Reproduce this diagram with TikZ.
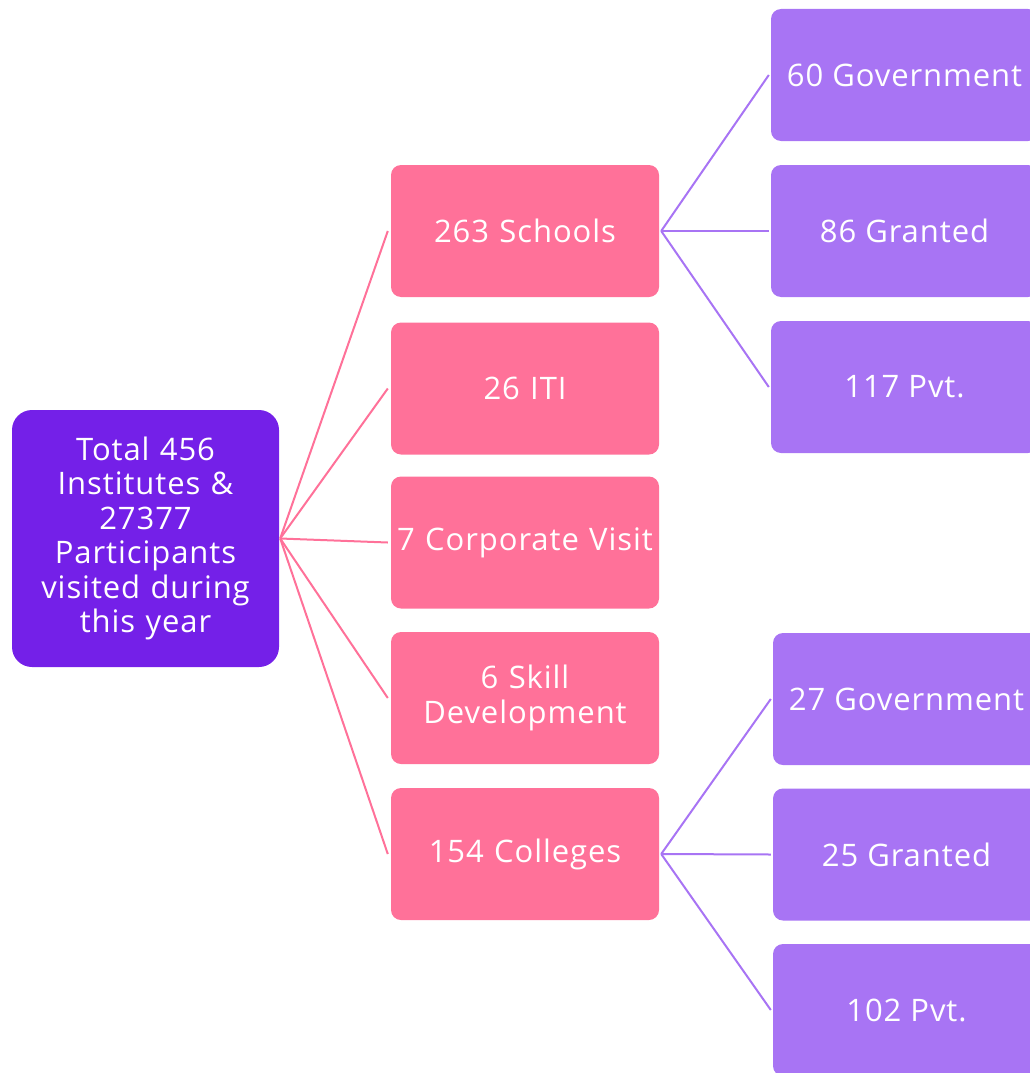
\documentclass[tikz,border=0pt]{standalone}
\usepackage{fontspec}
\setmainfont{Open Sans}[LetterSpace=3]
\definecolor{rootc}{RGB}{116,32,232}
\definecolor{pinkc}{RGB}{255,113,153}
\definecolor{purpc}{RGB}{168,116,244}
\begin{document}
\begin{tikzpicture}[x=1pt,y=-1pt,
  box/.style={rounded corners=10pt, text=white, inner sep=0pt, align=center,
    font=\fontsize{31}{34.5}\selectfont},
  rootbox/.style={box, fill=rootc, minimum width=267pt, minimum height=257pt, rounded corners=20pt, text width=255pt},
  midbox/.style={box, fill=pinkc, minimum width=268pt, minimum height=132pt, text width=264pt},
  leafbox/.style={box, fill=purpc, minimum width=267pt, minimum height=132pt},
  pinkline/.style={draw=pinkc, line width=2pt},
  purpline/.style={draw=purpc, line width=2pt}]
\useasboundingbox (0,0) rectangle (1030,1073);
\clip (0,0) rectangle (1030,1073);
\node[rootbox] (root) at (145.5,538.5) {Total 456\\Institutes \&\\27377\\Participants\\visited during\\this year};
\node[midbox] (sch) at (525,231) {263 Schools};
\node[midbox] (iti) at (525,388.5) {26 ITI};
\node[midbox] (corp) at (525,542.5) {7 Corporate Visit};
\node[midbox] (skill) at (525,698) {6 Skill\\Development};
\node[midbox] (col) at (525,854) {154 Colleges};
\node[leafbox] (g1) at (904.5,75) {60 Government};
\node[leafbox] (gr1) at (904.5,231) {86 Granted};
\node[leafbox] (p1) at (904.5,387) {117 Pvt.};
\node[leafbox] (g2) at (906.5,699) {27 Government};
\node[leafbox] (gr2) at (906.5,854.5) {25 Granted};
\node[leafbox] (p2) at (906.5,1010) {102 Pvt.};
\foreach \t in {sch,iti,corp,skill,col}
  \draw[pinkline] ([xshift=1pt]root.east) -- ([xshift=-3pt]\t.west);
\foreach \t in {g1,gr1,p1}
  \draw[purpline] ([xshift=2pt]sch.east) -- ([xshift=-2pt]\t.west);
\foreach \t in {g2,gr2,p2}
  \draw[purpline] ([xshift=2pt]col.east) -- ([xshift=-2pt]\t.west);
\end{tikzpicture}
\end{document}
